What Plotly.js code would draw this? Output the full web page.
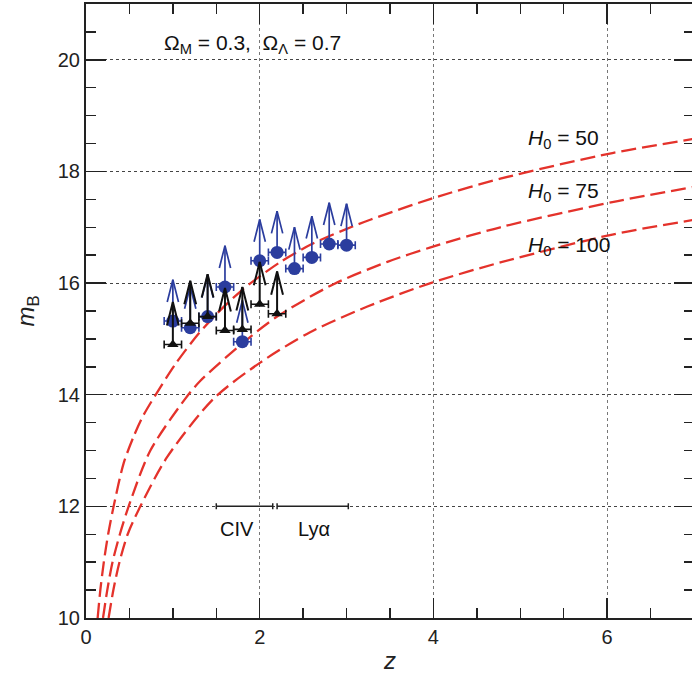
<!DOCTYPE html>
<html>
<head>
<meta charset="utf-8">
<script src="https://cdn.plot.ly/plotly-3.0.1.min.js"></script>
<style>
html,body{margin:0;padding:0;overflow:hidden;background:#fff;}
#chart{width:694px;height:677px;}
</style>
</head>
<body>
<div id="chart"></div>
<script>
// ---- data ----
const zBlue = [1.0, 1.2, 1.4, 1.6, 1.8, 2.0, 2.2, 2.4, 2.6, 2.8, 3.0];
const mBlue = [15.32, 15.2, 15.4, 15.93, 14.95, 16.4, 16.55, 16.26, 16.46, 16.7, 16.68];
const zErrBlue = 0.1;

const zBlack = [1.0, 1.2, 1.4, 1.6, 1.8, 2.0, 2.2];
const mBlack = [14.9, 15.28, 15.4, 15.15, 15.17, 15.62, 15.45];
const zErrBlack = 0.1;

const zH50 = [0.134, 0.165, 0.205, 0.255, 0.318, 0.433, 0.548, 0.65, 0.798, 1.03, 1.3, 1.55, 1.8, 2.0, 2.24, 2.6, 3.08, 3.28, 3.97, 4.77, 6.06, 6.985];
const mH50 = [10.0, 10.5, 11.0, 11.5, 12.0, 12.77, 13.25, 13.6, 13.99, 14.55, 15.1, 15.52, 15.88, 16.12, 16.38, 16.7, 17.02, 17.14, 17.51, 17.87, 18.33, 18.58];

const zH75 = [0.196, 0.245, 0.305, 0.39, 0.491, 0.741, 1.144, 1.317, 1.816, 2.2, 2.85, 3.47, 3.967, 4.77, 6.06, 6.985];
const mH75 = [10.0, 10.5, 11.0, 11.5, 12.0, 13.0, 13.93, 14.25, 14.94, 15.4, 15.98, 16.38, 16.64, 17.0, 17.45, 17.72];

const zH100 = [0.26, 0.315, 0.385, 0.48, 0.626, 0.933, 1.47, 2.01, 2.58, 3.24, 3.967, 4.77, 6.06, 6.985];
const mH100 = [10.0, 10.5, 11.0, 11.5, 12.0, 12.88, 13.93, 14.58, 15.12, 15.58, 16.0, 16.37, 16.87, 17.13];

const lineLabels = ["CIV", "Ly\u03b1"];
const lineStart = [1.5, 2.2];
const lineEnd = [2.15, 3.02];
const lineLabelZ = [1.74, 2.62];
const lineLevel = 12;

const curveLabels = ["<i>H</i><sub>0</sub> = 50", "<i>H</i><sub>0</sub> = 75", "<i>H</i><sub>0</sub> = 100"];
const curveLabelM = [18.58, 17.63, 16.67];

const xTicks = [0, 2, 4, 6];
const yTicks = [10, 12, 14, 16, 18, 20];

// ---- helpers ----
function arrows(zs, ms, len, head, half) {
  const xs = [], ys = [];
  for (let i = 0; i < zs.length; i++) {
    const z = zs[i], m = ms[i], tip = m + len;
    xs.push(z, z, null, z - half, z, z + half, null);
    ys.push(m, tip, null, tip - head, tip, tip - head, null);
  }
  return {x: xs, y: ys};
}

const RED = '#e4322b';
const BLUE = '#2b3d9e';
const BLACK = '#111111';
const FONT = 'Liberation Sans, Arial, Helvetica, sans-serif';

const blueArr = arrows(zBlue, mBlue, 0.74, 0.4, 0.065);
const blackArr = arrows(zBlack, mBlack, 0.76, 0.42, 0.068);

const curveLine = {color: RED, width: 2.3, dash: '15px,6px', shape: 'spline', smoothing: 0.8};

const traces = [
  {x: zH50, y: mH50, mode: 'lines', line: curveLine, hoverinfo: 'skip'},
  {x: zH75, y: mH75, mode: 'lines', line: curveLine, hoverinfo: 'skip'},
  {x: zH100, y: mH100, mode: 'lines', line: curveLine, hoverinfo: 'skip'},
  // line-region brackets
  {x: lineStart.map((s, i) => (s + lineEnd[i]) / 2), y: lineStart.map(() => lineLevel), mode: 'markers',
   marker: {opacity: 0, size: 1},
   error_x: {type: 'data', array: lineStart.map((s, i) => (lineEnd[i] - s) / 2), width: 3, thickness: 1.5, color: '#222'}},
  {x: blueArr.x, y: blueArr.y, mode: 'lines', line: {color: BLUE, width: 1.7}},
  {x: zBlue, y: mBlue, mode: 'markers', marker: {color: BLUE, size: 13, symbol: 'circle'},
   error_x: {type: 'constant', value: zErrBlue, width: 4, thickness: 1.6, color: BLUE}},
  {x: blackArr.x, y: blackArr.y, mode: 'lines', line: {color: BLACK, width: 2}},
  {x: zBlack, y: mBlack, mode: 'markers', marker: {color: BLACK, size: 10, symbol: 'triangle-up'},
   error_x: {type: 'constant', value: zErrBlack, width: 4, thickness: 1.6, color: BLACK}}
];

const annotations = [
  {x: 1.92, y: 20.29, xref: 'x', yref: 'y', showarrow: false,
   text: '\u03a9<sub>M</sub> = 0.3,  \u03a9<sub>\u039b</sub> = 0.7', font: {size: 21, color: '#111', family: FONT}},
];
lineLabels.forEach((t, i) => annotations.push({
  x: lineLabelZ[i], y: 11.6, xref: 'x', yref: 'y', showarrow: false,
  text: t, font: {size: 20, color: '#111', family: FONT}}));
curveLabels.forEach((t, i) => annotations.push({
  x: 5.06, y: curveLabelM[i], xref: 'x', yref: 'y', xanchor: 'left', showarrow: false,
  text: t, font: {size: 21, color: '#111', family: FONT}}));

const axisCommon = {
  showline: true, linewidth: 2, linecolor: '#222', mirror: 'ticks',
  ticks: 'inside', ticklen: 20, tickwidth: 1.5, tickcolor: '#222',
  zeroline: false, showgrid: true, gridwidth: 1, griddash: '3px,3px',
  tickfont: {size: 20, color: '#222', family: FONT},
  minor: {dtick: 0.5, ticks: 'inside', ticklen: 10, tickwidth: 1.5, tickcolor: '#222', showgrid: false}
};

const layout = {
  width: 694, height: 677,
  margin: {l: 86, r: 0, t: 4, b: 59},
  paper_bgcolor: '#fff', plot_bgcolor: '#fff',
  showlegend: false,
  font: {family: FONT},
  xaxis: Object.assign({}, axisCommon, {
    range: [0, 7], tickvals: xTicks, ticktext: xTicks.map(String),
    gridcolor: '#777',
    title: {text: '<i>z</i>', font: {size: 24, color: '#222', family: FONT}, standoff: 5}
  }),
  yaxis: Object.assign({}, axisCommon, {
    range: [10, 21], tickvals: yTicks, ticktext: yTicks.map(String),
    gridcolor: '#444',
    title: {text: '<i>m</i><sub>B</sub>', font: {size: 24, color: '#222', family: FONT}, standoff: 16}
  }),
  annotations: annotations
};

Plotly.newPlot('chart', traces, layout, {displayModeBar: false, staticPlot: true});
</script>
</body>
</html>
